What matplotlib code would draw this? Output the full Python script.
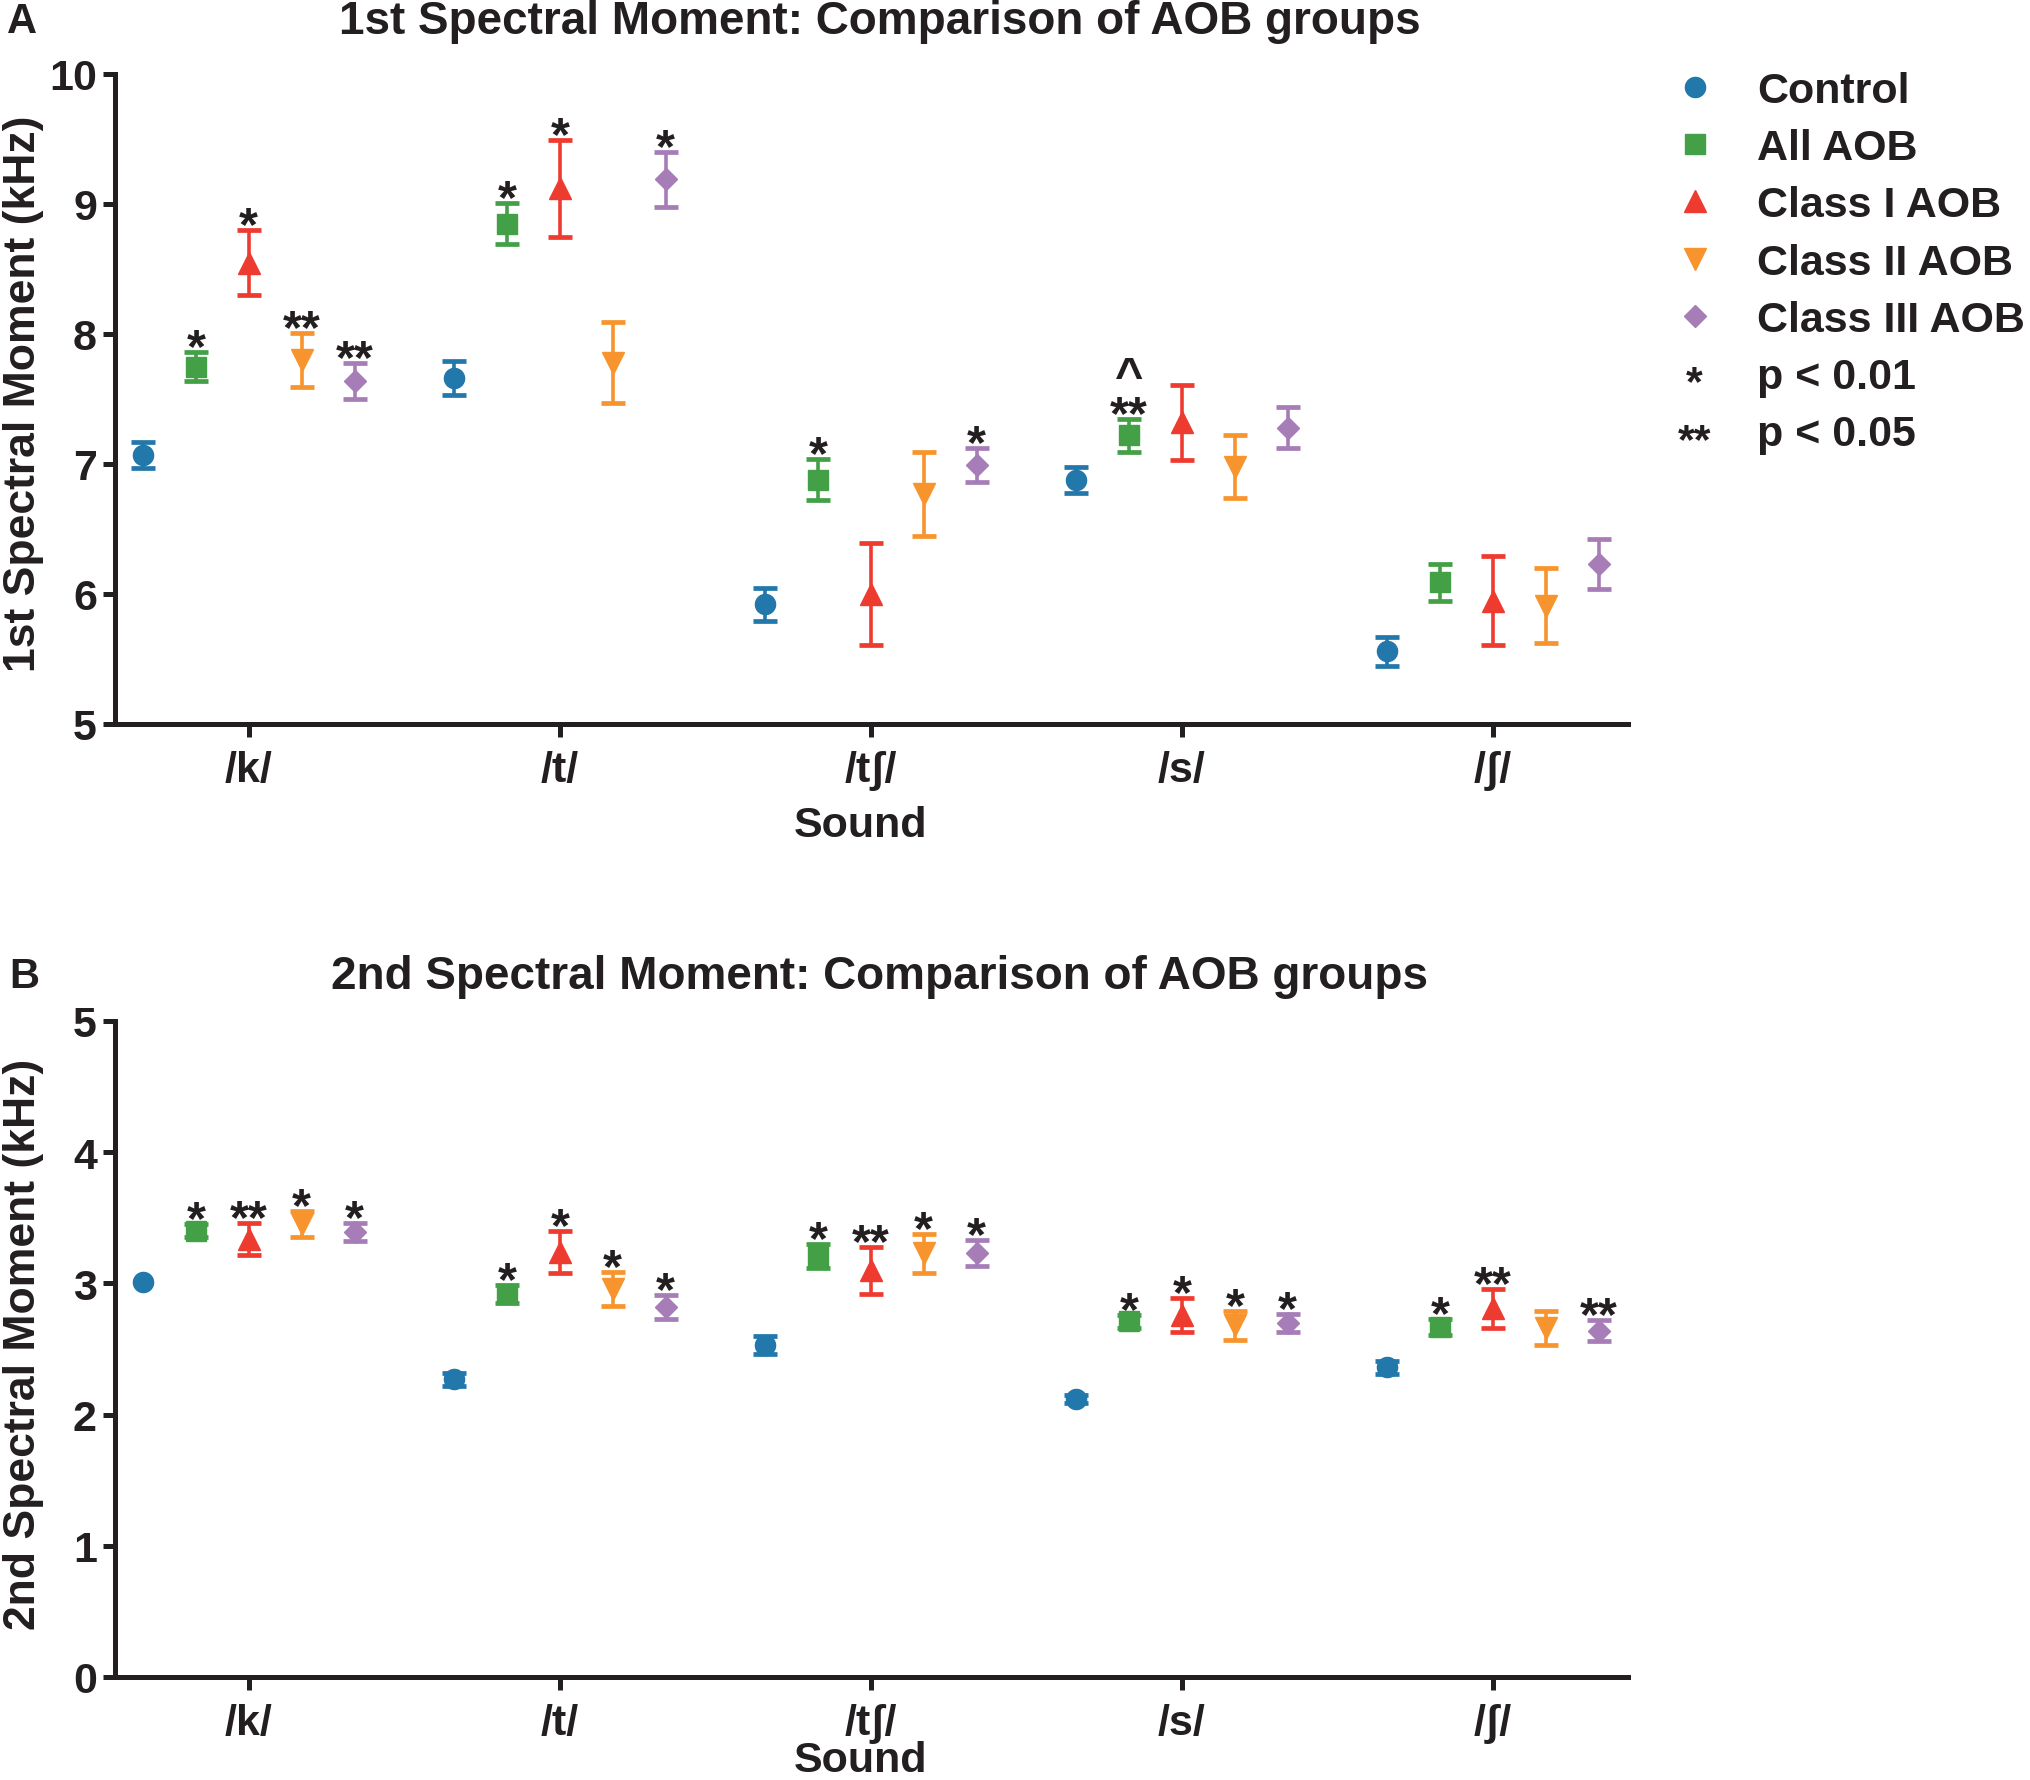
import numpy as np
import matplotlib
matplotlib.use("Agg")
import matplotlib.pyplot as plt
from matplotlib.lines import Line2D
from matplotlib.text import Text
from matplotlib.legend_handler import HandlerBase

plt.rcParams['font.family'] = ['Liberation Sans', 'DejaVu Sans']
plt.rcParams['font.weight'] = 'bold'
plt.rcParams['axes.labelweight'] = 'bold'
plt.rcParams['axes.titleweight'] = 'bold'
plt.rcParams['text.color'] = '#231F20'
plt.rcParams['axes.labelcolor'] = '#231F20'
plt.rcParams['xtick.color'] = '#231F20'
plt.rcParams['ytick.color'] = '#231F20'

# ---------------- data ----------------
sounds = ['/k/', '/t/', '/tʃ/', '/s/', '/ʃ/']
groups = ['Control', 'All AOB', 'Class I AOB', 'Class II AOB', 'Class III AOB']

# 1st spectral moment (kHz): mean and error
m1_control = [7.07, 7.66, 5.92, 6.88, 5.56]
m1_control_err = [0.10, 0.13, 0.13, 0.10, 0.11]
m1_all = [7.75, 8.85, 6.88, 7.22, 6.09]
m1_all_err = [0.11, 0.16, 0.16, 0.13, 0.14]
m1_c1 = [8.55, 9.12, 6.00, 7.32, 5.95]
m1_c1_err = [0.25, 0.37, 0.39, 0.29, 0.34]
m1_c2 = [7.80, 7.78, 6.77, 6.98, 5.91]
m1_c2_err = [0.21, 0.31, 0.32, 0.24, 0.29]
m1_c3 = [7.64, 9.19, 6.99, 7.28, 6.23]
m1_c3_err = [0.14, 0.21, 0.13, 0.16, 0.19]

# 1st moment significance marks
m1_control_sig = ['', '', '', '', '']
m1_all_sig = ['*', '*', '*', '^\n**', '']
m1_c1_sig = ['*', '*', '', '', '']
m1_c2_sig = ['**', '', '', '', '']
m1_c3_sig = ['**', '*', '*', '', '']

# 2nd spectral moment (kHz): mean and error
m2_control = [3.01, 2.27, 2.53, 2.12, 2.36]
m2_control_err = [np.nan, 0.05, 0.07, 0.03, 0.05]
m2_all = [3.40, 2.92, 3.21, 2.71, 2.67]
m2_all_err = [0.05, 0.07, 0.09, 0.05, 0.06]
m2_c1 = [3.34, 3.24, 3.10, 2.76, 2.81]
m2_c1_err = [0.12, 0.16, 0.18, 0.13, 0.15]
m2_c2 = [3.45, 2.96, 3.23, 2.68, 2.66]
m2_c2_err = [0.10, 0.13, 0.15, 0.11, 0.13]
m2_c3 = [3.39, 2.82, 3.23, 2.70, 2.64]
m2_c3_err = [0.07, 0.09, 0.10, 0.07, 0.08]

m2_control_sig = ['', '', '', '', '']
m2_all_sig = ['*', '*', '*', '*', '*']
m2_c1_sig = ['**', '*', '**', '*', '**']
m2_c2_sig = ['*', '*', '*', '*', '']
m2_c3_sig = ['*', '*', '*', '*', '**']

colors = ['#2277AB', '#43A047', '#EE3B30', '#F7942D', '#A67DB7']
markers = ['o', 's', '^', 'v', 'D']
msizes = [14.5, 14.5, 15.5, 15.5, 11.0]
offsets = [-0.34, -0.17, 0.0, 0.17, 0.34]

W, H = 2031, 1781
fig = plt.figure(figsize=(W / 100, H / 100), dpi=100)
axA = fig.add_axes([115 / W, 1 - 725 / H, 1513 / W, 650 / H])
axB = fig.add_axes([115 / W, 1 - 1678 / H, 1513 / W, 656 / H])

STAR_FS = 35


def draw_panel(ax, means, errs, sigs, ylim, yticks, ylabel):
    x = np.arange(len(sounds))
    for g in range(len(groups)):
        xs = x + offsets[g]
        ax.errorbar(xs, means[g], yerr=errs[g], fmt=markers[g], color=colors[g],
                    ms=msizes[g], mec=colors[g], capsize=8.5, capthick=3.4,
                    elinewidth=2.6, linestyle='none', label=groups[g])
        for i in range(len(sounds)):
            s = sigs[g][i]
            if not s:
                continue
            e = errs[g][i]
            top = means[g][i] + (0 if np.isnan(e) else e)
            # bottom of the text box sits just below the cap; the asterisks
            # glyphs are drawn high in the line, so they land above the cap
            ax.annotate(s, xy=(xs[i], top), xytext=(0, -13.7),
                        textcoords='offset points', ha='center', va='bottom',
                        multialignment='center', linespacing=0.78,
                        fontsize=STAR_FS, fontweight='bold')
    ax.set_xlim(-0.43, 4.434)
    ax.set_ylim(*ylim)
    ax.set_yticks(yticks)
    ax.set_xticks(x)
    ax.set_xticklabels(sounds)
    for sp in ['top', 'right']:
        ax.spines[sp].set_visible(False)
    for sp in ['left', 'bottom']:
        ax.spines[sp].set_linewidth(3.6)
        ax.spines[sp].set_color('#231F20')
    ax.tick_params(axis='both', direction='out', length=9, width=3.6,
                   labelsize=31, pad=4)
    ax.tick_params(axis='x', pad=10)
    ax.set_ylabel(ylabel, fontsize=32, fontweight='bold')
    ax.set_xlabel('Sound', fontsize=31, fontweight='bold')


draw_panel(axA,
           [m1_control, m1_all, m1_c1, m1_c2, m1_c3],
           [m1_control_err, m1_all_err, m1_c1_err, m1_c2_err, m1_c3_err],
           [m1_control_sig, m1_all_sig, m1_c1_sig, m1_c2_sig, m1_c3_sig],
           (5, 10), [5, 6, 7, 8, 9, 10], '1st Spectral Moment (kHz)')
draw_panel(axB,
           [m2_control, m2_all, m2_c1, m2_c2, m2_c3],
           [m2_control_err, m2_all_err, m2_c1_err, m2_c2_err, m2_c3_err],
           [m2_control_sig, m2_all_sig, m2_c1_sig, m2_c2_sig, m2_c3_sig],
           (0, 5), [0, 1, 2, 3, 4, 5], '2nd Spectral Moment (kHz)')

axA.yaxis.set_label_coords(-0.047, (725 - 394) / 650)
axB.yaxis.set_label_coords(-0.047, (1678 - 1344) / 656)
axA.xaxis.set_label_coords((861 - 115) / 1513, -(806 - 725) / 650)
axB.xaxis.set_label_coords((861 - 115) / 1513, -(1741 - 1678) / 656)

# titles and panel letters
fig.text(880 / W, 1 - 34 / H, '1st Spectral Moment: Comparison of AOB groups',
         ha='center', va='baseline', fontsize=33, fontweight='bold')
fig.text(880 / W, 1 - 989 / H, '2nd Spectral Moment: Comparison of AOB groups',
         ha='center', va='baseline', fontsize=33, fontweight='bold')
fig.text(7 / W, 1 - 33 / H, 'A', ha='left', va='baseline', fontsize=30, fontweight='bold')
fig.text(9 / W, 1 - 988 / H, 'B', ha='left', va='baseline', fontsize=30, fontweight='bold')


# legend
class TextHandler(HandlerBase):
    def create_artists(self, legend, orig_handle, xdescent, ydescent, width,
                       height, fontsize, trans):
        t = Text(width / 2 - xdescent, height / 2 - ydescent - 0.5 * fontsize,
                 orig_handle.get_text(), ha='center', va='baseline',
                 fontsize=fontsize, fontweight='bold', color='#231F20',
                 transform=trans)
        return [t]


handles = [Line2D([], [], marker=markers[g], color=colors[g], linestyle='none',
                  ms=msizes[g]) for g in range(len(groups))]
labels = list(groups)
handles += [Text(text='*'), Text(text='**')]
labels += ['p < 0.01', 'p < 0.05']

leg = fig.legend(handles, labels, loc='upper left',
                 bbox_to_anchor=(1673 / W, 1 - 72 / H),
                 bbox_transform=fig.transFigure, frameon=False,
                 fontsize=31, handlelength=1.0, handletextpad=0.95,
                 labelspacing=0.40, borderpad=0, borderaxespad=0,
                 handler_map={Text: TextHandler()})

fig.savefig('out.png', dpi=100)
